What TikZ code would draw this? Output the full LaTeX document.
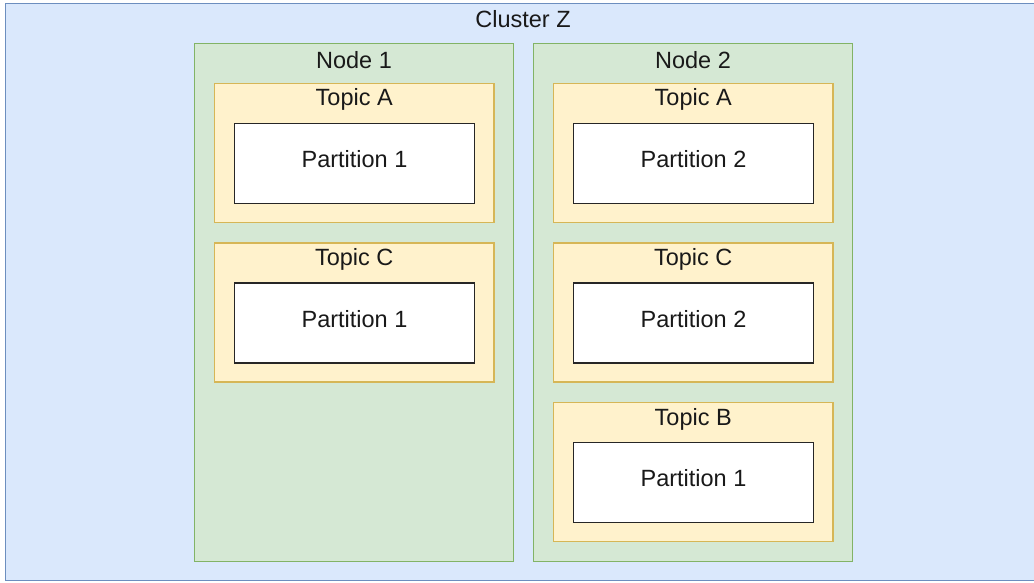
\documentclass[tikz,border=0pt]{standalone}
\usepackage{fontspec}
\setmainfont{Liberation Sans}
\definecolor{clusterfill}{HTML}{DAE8FC}
\definecolor{clusterline}{HTML}{6C8EBF}
\definecolor{hostfill}{HTML}{D5E8D4}
\definecolor{hostline}{HTML}{82B366}
\definecolor{topicfill}{HTML}{FFF2CC}
\definecolor{topicline}{HTML}{D6B656}
\begin{document}
\begin{tikzpicture}[x=1pt,y=-1pt,
  box/.style={rectangle,inner sep=0pt,outer sep=0pt,anchor=north west},
  clusterbox/.style={box,fill=clusterfill,draw=clusterline,line width=1.8pt},
  hostbox/.style={box,fill=hostfill,draw=hostline,line width=1.5pt,
    minimum width=319pt,minimum height=518pt},
  topicbox/.style={box,fill=topicfill,draw=topicline,line width=1.5pt,
    minimum width=279.5pt,minimum height=139pt},
  partbox/.style={box,fill=white,draw=black!85,line width=1.8pt,
    minimum width=240pt,minimum height=80pt},
  txt/.style={inner sep=0pt,anchor=base,font=\fontsize{23.5}{28}\selectfont,text=black!90}]
\useasboundingbox (0,0) rectangle (1034,583);

% cluster
\node[clusterbox,minimum width=1037pt,minimum height=577pt] (cluster) at (5.5,3.5) {};
\node[txt] (clusterlbl) at (523,27.7) {Cluster Z};

% hosts
\node[hostbox] (n1) at (194.5,43.5) {};
\node[txt] (n1lbl) at (354,68.3) {Node 1};
\node[hostbox] (n2) at (533.5,43.5) {};
\node[txt] (n2lbl) at (693,68.3) {Node 2};

% topic boxes with one partition each: name/x/y/topic/partition
\foreach \nm/\x/\y/\tp/\pt in {a1/214.5/83.5/Topic A/Partition 1,
                               c1/214.5/243/Topic C/Partition 1,
                               a2/553.5/83.5/Topic A/Partition 2,
                               c2/553.5/243/Topic C/Partition 2,
                               b2/553.5/402.5/Topic B/Partition 1}{
  \node[topicbox] (t\nm) at (\x,\y) {};
  \node[txt] (t\nm lbl) at ([yshift=-22.5pt]t\nm.north) {\tp};
  \node[partbox] (p\nm) at (\x+20,\y+40) {};
  \node[txt] (p\nm lbl) at ([yshift=-4.2pt]p\nm.center) {\pt};
}
\end{tikzpicture}
\end{document}
